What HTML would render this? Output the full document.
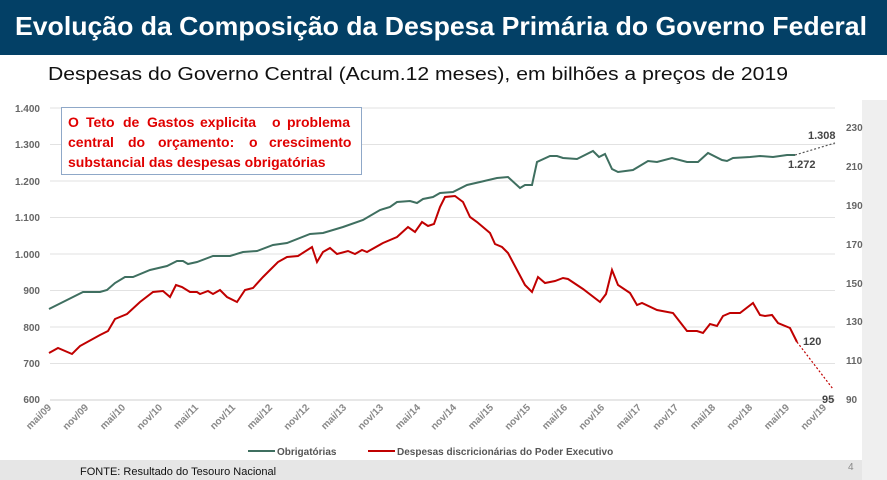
<!DOCTYPE html>
<html><head><meta charset="utf-8"><style>
html,body{margin:0;padding:0;width:887px;height:480px;overflow:hidden;background:#fff}
svg{display:block}
text{font-family:"Liberation Sans",sans-serif}
</style></head><body>
<svg width="887" height="480" viewBox="0 0 887 480" xmlns="http://www.w3.org/2000/svg">
<rect x="0" y="0" width="887" height="480" fill="#ffffff"/>
<rect x="0" y="460" width="887" height="20" fill="#e6e6e6"/>
<rect x="862" y="100" width="25" height="380" fill="#efefef"/>
<rect x="0" y="0" width="887" height="55" fill="#034066"/>
<text x="441" y="35" text-anchor="middle" font-size="26" font-weight="bold" fill="#fff" textLength="852" lengthAdjust="spacingAndGlyphs">Evolução da Composição da Despesa Primária do Governo Federal</text>
<text x="418" y="80" text-anchor="middle" font-size="18" fill="#111" textLength="740" lengthAdjust="spacingAndGlyphs">Despesas do Governo Central  (Acum.12 meses), em bilhões a preços de 2019</text>
<g stroke="#e2e2e2" stroke-width="1">
<line x1="50" y1="108" x2="835" y2="108"/><line x1="50" y1="144.5" x2="835" y2="144.5"/><line x1="50" y1="181" x2="835" y2="181"/><line x1="50" y1="217.5" x2="835" y2="217.5"/><line x1="50" y1="254" x2="835" y2="254"/><line x1="50" y1="290.5" x2="835" y2="290.5"/><line x1="50" y1="327" x2="835" y2="327"/><line x1="50" y1="363.5" x2="835" y2="363.5"/><line x1="50" y1="400" x2="835" y2="400" stroke="#cfcfcf"/>
</g>
<g font-size="10" font-weight="bold" fill="#666" text-anchor="end">
<text x="40" y="112">1.400</text><text x="40" y="148">1.300</text><text x="40" y="185">1.200</text><text x="40" y="221">1.100</text><text x="40" y="258">1.000</text><text x="40" y="294">900</text><text x="40" y="331">800</text><text x="40" y="367">700</text><text x="40" y="403">600</text>
</g>
<g font-size="10" font-weight="bold" fill="#666">
<text x="846" y="131">230</text><text x="846" y="170">210</text><text x="846" y="209">190</text><text x="846" y="248">170</text><text x="846" y="287">150</text><text x="846" y="325">130</text><text x="846" y="364">110</text><text x="846" y="403">90</text>
</g>
<g font-size="10" font-weight="bold" fill="#888" text-anchor="end">
<text transform="translate(52,408) rotate(-45)">mai/09</text>
<text transform="translate(89,408) rotate(-45)">nov/09</text>
<text transform="translate(126,408) rotate(-45)">mai/10</text>
<text transform="translate(163,408) rotate(-45)">nov/10</text>
<text transform="translate(199,408) rotate(-45)">mai/11</text>
<text transform="translate(236,408) rotate(-45)">nov/11</text>
<text transform="translate(273,408) rotate(-45)">mai/12</text>
<text transform="translate(310,408) rotate(-45)">nov/12</text>
<text transform="translate(347,408) rotate(-45)">mai/13</text>
<text transform="translate(384,408) rotate(-45)">nov/13</text>
<text transform="translate(421,408) rotate(-45)">mai/14</text>
<text transform="translate(457,408) rotate(-45)">nov/14</text>
<text transform="translate(494,408) rotate(-45)">mai/15</text>
<text transform="translate(531,408) rotate(-45)">nov/15</text>
<text transform="translate(568,408) rotate(-45)">mai/16</text>
<text transform="translate(605,408) rotate(-45)">nov/16</text>
<text transform="translate(642,408) rotate(-45)">mai/17</text>
<text transform="translate(679,408) rotate(-45)">nov/17</text>
<text transform="translate(716,408) rotate(-45)">mai/18</text>
<text transform="translate(753,408) rotate(-45)">nov/18</text>
<text transform="translate(790,408) rotate(-45)">mai/19</text>
<text transform="translate(827,408) rotate(-45)">nov/19</text>
</g>
<polyline fill="none" stroke="#3f6f60" stroke-width="2" points="49,309 63,302 83,292 100,292 107,290 115,283 125,277 133,277 150,270 167,266 177,261 183,261 188,264 197,262 213,256 230,256 243,252 257,251 273,245 287,243 310,234 323,233 343,227 363,220 380,210 390,207 397,202 410,201 417,203 423,199 433,197 440,193 453,192 467,185 480,182 497,178 508,177 520,188 525,185 532,185 537,162 550,156 557,156 563,158 577,159 593,151 599,157 605,154 612,169 618,172 633,170 648,161 657,162 672,158 687,162 698,162 708,153 722,160 727,161 733,158 750,157 760,156 773,157 787,155 795,155"/>
<line x1="795" y1="155" x2="835" y2="143" stroke="#555" stroke-width="1.2" stroke-dasharray="2,2"/>
<polyline fill="none" stroke="#c00000" stroke-width="2" points="49,353 58,348 72,354 80,346 100,335 108,331 115,319 127,314 140,302 153,292 163,291 170,297 176,285 182,287 190,292 197,292 200,294 208,291 213,294 220,290 227,297 237,302 245,290 253,288 263,277 270,270 278,262 287,257 298,256 312,247 317,262 323,252 330,248 337,254 348,251 355,254 362,250 367,252 383,243 397,237 408,227 415,232 422,222 428,226 434,224 440,207 445,197 455,196 463,202 470,217 477,222 490,233 495,244 502,247 508,253 525,285 532,292 538,277 545,283 555,281 563,278 568,279 583,289 600,302 606,294 612,270 618,285 630,293 637,305 642,303 657,310 673,313 687,331 697,331 703,333 710,324 717,326 723,316 730,313 740,313 753,303 760,315 765,316 772,315 778,323 790,328 797,342"/>
<line x1="797" y1="342" x2="833" y2="389" stroke="#c00000" stroke-width="1.2" stroke-dasharray="2,2"/>
<g font-size="11" font-weight="bold" fill="#444">
<text x="808" y="139">1.308</text><text x="788" y="168">1.272</text><text x="803" y="345">120</text><text x="822" y="403">95</text>
</g>
<rect x="61.5" y="107.5" width="300" height="67" fill="#fff" stroke="#8fa8c8" stroke-width="1"/>
<g font-size="14" font-weight="bold" fill="#e00000">
<text y="127"><tspan x="68">O</tspan><tspan x="86">Teto</tspan><tspan x="123">de</tspan><tspan x="147">Gastos</tspan><tspan x="200">explicita</tspan><tspan x="272">o</tspan><tspan x="287">problema</tspan></text>
<text y="147"><tspan x="68">central</tspan><tspan x="128">do</tspan><tspan x="158">orçamento:</tspan><tspan x="249">o</tspan><tspan x="269">crescimento</tspan></text>
<text x="68" y="167">substancial das despesas obrigatórias</text>
</g>
<line x1="248" y1="451" x2="275" y2="451" stroke="#3f6f60" stroke-width="2"/>
<text x="277" y="455" font-size="10" font-weight="bold" fill="#555">Obrigatórias</text>
<line x1="368" y1="451" x2="395" y2="451" stroke="#c00000" stroke-width="2"/>
<text x="397" y="455" font-size="10" font-weight="bold" fill="#555">Despesas discricionárias do Poder Executivo</text>
<text x="80" y="475" font-size="11" fill="#111">FONTE: Resultado do Tesouro Nacional</text>
<text x="848" y="470" font-size="10" fill="#888">4</text>
</svg>
</body></html>
